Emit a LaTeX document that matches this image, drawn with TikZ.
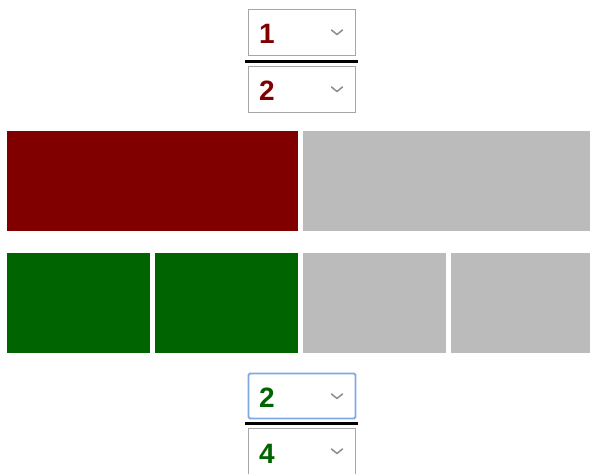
\documentclass[tikz,border=0pt]{standalone}
\usepackage{fontspec}
\setmainfont{Liberation Sans}
\definecolor{dred}{HTML}{800000}
\definecolor{dgreen}{HTML}{006400}
\definecolor{lgrey}{HTML}{BBBBBB}
\definecolor{selborder}{HTML}{A6A6A6}
\definecolor{focusblue}{HTML}{7FA8E6}
\definecolor{chev}{HTML}{8C8C8C}
\begin{document}
\begin{tikzpicture}[x=1pt,y=-1pt,
  selbox/.style={draw=selborder,line width=1.2pt,fill=white},
  focbox/.style={draw=focusblue,line width=1.8pt,rounded corners=1.5pt,fill=white},
  fracbar/.style={line width=3pt,black},
  chevron/.style={draw=chev,line width=1.5pt,line cap=round,line join=round},
  digit/.style={font=\fontsize{28}{28}\selectfont\bfseries,inner sep=0pt,anchor=base west},
  part/.style={draw=none}]
\useasboundingbox (0,0) rectangle (590,474);
% bars
\fill[dred] (7,131) rectangle (298,231);
\fill[lgrey] (303,131) rectangle (590,231);
\fill[dgreen] (7,253) rectangle (150,353);
\fill[dgreen] (155,253) rectangle (298,353);
\fill[lgrey] (303,253) rectangle (446,353);
\fill[lgrey] (451,253) rectangle (590,353);
% top fraction
\draw[selbox] (248.5,9.5) rectangle (355.5,55.5);
\node[digit,text=dred] (n1) at (259,43.5) {1};
\draw[chevron] (331.5,30) -- (337,34.5) -- (342.5,30);
\draw[fracbar] (245,61.5) -- (358,61.5);
\draw[selbox] (248.5,66.5) rectangle (355.5,112.5);
\node[digit,text=dred] (d1) at (259,100.5) {2};
\draw[chevron] (331.5,87) -- (337,91.5) -- (342.5,87);
% bottom fraction
\draw[focbox] (248.5,373.5) rectangle (355.5,418.5);
\node[digit,text=dgreen] (n2) at (259,407) {2};
\draw[chevron] (331.5,394) -- (337,398.5) -- (342.5,394);
\draw[fracbar] (245,423.5) -- (358,423.5);
\draw[selbox] (248.5,428.5) rectangle (355.5,480);
\node[digit,text=dgreen] (d2) at (259,463) {4};
\draw[chevron] (331.5,449) -- (337,453.5) -- (342.5,449);
\end{tikzpicture}
\end{document}
